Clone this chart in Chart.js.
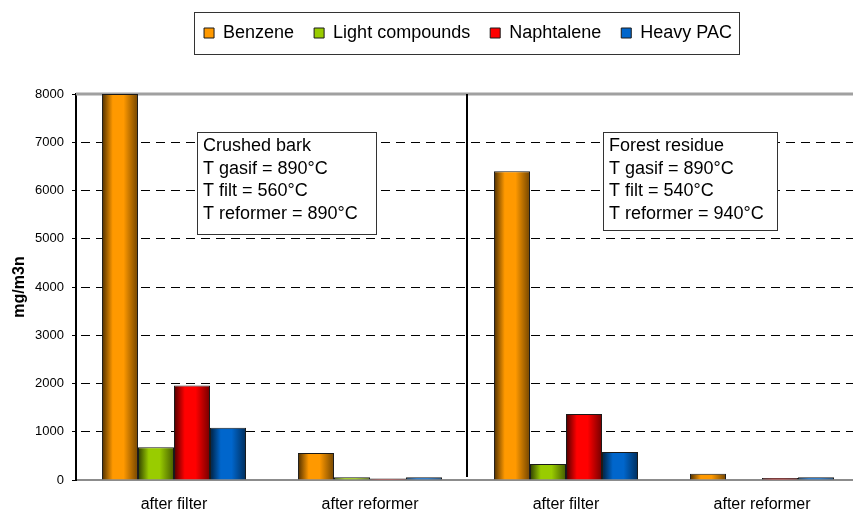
<!DOCTYPE html>
<html>
<head>
<meta charset="utf-8">
<script src="https://cdn.jsdelivr.net/npm/chart.js@4.4.1/dist/chart.umd.min.js"></script>
<style>
  html, body { margin: 0; padding: 0; background: #fff; overflow: hidden; }
  #wrap { width: 853px; height: 511px; overflow: hidden; }
</style>
</head>
<body>
<div id="wrap"><canvas id="bar-chart" width="860" height="511"></canvas></div>
<script>
var categories = ["after filter", "after reformer", "after filter", "after reformer"];
var benzene = [8000, 560, 6400, 130];
var lightCompounds = [680, 55, 330, 0];
var naphtalene = [1960, 30, 1370, 40];
var heavyPac = [1085, 55, 580, 55];
var yTicks = [0, 1000, 2000, 3000, 4000, 5000, 6000, 7000, 8000];

var seriesNames = ["Benzene", "Light compounds", "Naphtalene", "Heavy PAC"];
var seriesColors = ["#ff9900", "#99cc00", "#ff0000", "#0066cc"];

var boxNotes = [
  { x: 197, y: 132, w: 179, h: 102, lines: ["Crushed bark", "T gasif = 890°C", "T filt = 560°C", "T reformer = 890°C"] },
  { x: 603, y: 132, w: 174, h: 98, lines: ["Forest residue", "T gasif = 890°C", "T filt = 540°C", "T reformer = 940°C"] }
];

var FONT = "'Liberation Sans', Arial, sans-serif";

function shade(hex, f) {
  var r = parseInt(hex.substr(1, 2), 16), g = parseInt(hex.substr(3, 2), 16), b = parseInt(hex.substr(5, 2), 16);
  return "rgb(" + Math.round(r * f) + "," + Math.round(g * f) + "," + Math.round(b * f) + ")";
}

// extra room under the legend, like the original sheet
var legendGap = {
  id: "legendGap",
  beforeLayout: function(chart) {
    var lg = chart.legend;
    if (lg && !lg._gapPatched) {
      var origFit = lg.fit;
      lg.fit = function() {
        origFit.call(this);
        this.height += 42;
      };
      lg._gapPatched = true;
    }
  }
};

// cylinder-like shading on each bar
var barShading = {
  id: "barShading",
  beforeDatasetsDraw: function(chart) {
    var ctx = chart.ctx;
    chart.data.datasets.forEach(function(ds, i) {
      var col = seriesColors[i];
      chart.getDatasetMeta(i).data.forEach(function(bar) {
        var l = bar.x - bar.width / 2, r = bar.x + bar.width / 2;
        var g = ctx.createLinearGradient(l, 0, r, 0);
        g.addColorStop(0, shade(col, 0.3));
        g.addColorStop(0.3, col);
        g.addColorStop(0.6, col);
        g.addColorStop(1, shade(col, 0.45));
        bar.options = Object.assign({}, bar.options, { backgroundColor: g });
      });
    });
  }
};

var chartDecor = {
  id: "chartDecor",
  beforeDatasetsDraw: function(chart) {
    var ctx = chart.ctx, a = chart.chartArea, x = chart.scales.x, y = chart.scales.y;
    ctx.save();
    // grey top line
    ctx.strokeStyle = "#a0a0a0";
    ctx.lineWidth = 3;
    ctx.beginPath();
    ctx.moveTo(a.left, y.getPixelForValue(8000));
    ctx.lineTo(a.right, y.getPixelForValue(8000));
    ctx.stroke();
    // separator between the two feedstocks
    var sx = Math.round((x.getPixelForValue(1) + x.getPixelForValue(2)) / 2) - 1;
    ctx.strokeStyle = "#000";
    ctx.lineWidth = 2;
    ctx.beginPath();
    ctx.moveTo(sx, y.getPixelForValue(8000));
    ctx.lineTo(sx, y.getPixelForValue(0) - 3);
    ctx.stroke();
    ctx.restore();
  },
  afterDraw: function(chart) {
    var ctx = chart.ctx;
    ctx.save();
    // text boxes
    boxNotes.forEach(function(b) {
      ctx.fillStyle = "#fff";
      ctx.fillRect(b.x, b.y, b.w, b.h);
      ctx.strokeStyle = "#333";
      ctx.lineWidth = 1;
      ctx.strokeRect(b.x + 0.5, b.y + 0.5, b.w, b.h);
      ctx.fillStyle = "#000";
      ctx.font = "18px " + FONT;
      ctx.textBaseline = "alphabetic";
      ctx.textAlign = "left";
      b.lines.forEach(function(t, k) {
        ctx.fillText(t, b.x + 6, b.y + 19 + k * 22.5);
      });
    });
    // frame around the legend
    var hb = chart.legend.legendHitBoxes;
    if (hb && hb.length) {
      var first = hb[0], last = hb[hb.length - 1];
      ctx.strokeStyle = "#333";
      ctx.lineWidth = 1;
      ctx.strokeRect(Math.round(first.left - 10) + 0.5, Math.round(first.top - 12) + 0.5,
        Math.round(last.left + last.width - first.left + 17), Math.round(first.height + 24));
    }
    ctx.restore();
  }
};

function makeDataset(k, values) {
  return {
    label: seriesNames[k],
    data: values,
    backgroundColor: seriesColors[k],
    borderColor: "#1a1a1a",
    borderWidth: 1,
    categoryPercentage: 0.735,
    barPercentage: 1
  };
}

var barChart = new Chart(document.getElementById("bar-chart"), {
  type: "bar",
  data: {
    labels: categories,
    datasets: [
      makeDataset(0, benzene),
      makeDataset(1, lightCompounds),
      makeDataset(2, naphtalene),
      makeDataset(3, heavyPac)
    ]
  },
  options: {
    responsive: false,
    animation: false,
    layout: { padding: { top: 4, left: 0, right: 0, bottom: 0 } },
    plugins: {
      legend: {
        position: "top",
        fullSize: false,
        labels: {
          boxWidth: 10,
          boxHeight: 10,
          padding: 20,
          color: "#000",
          font: { family: FONT, size: 18 }
        }
      },
      tooltip: { enabled: false }
    },
    scales: {
      x: {
        grid: { display: false, drawTicks: false },
        border: { display: true, color: "#8c8c8c", width: 2 },
        ticks: { color: "#000", padding: 15, font: { family: FONT, size: 16 } },
        afterFit: function(scale) { scale.height = 31; }
      },
      y: {
        min: 0,
        max: 8000,
        afterBuildTicks: function(scale) {
          scale.ticks = yTicks.map(function(v) { return { value: v }; });
        },
        grid: {
          color: function(c) {
            return (c.tick && (c.tick.value === 0 || c.tick.value === 8000)) ? "rgba(0,0,0,0)" : "#000";
          },
          tickColor: "#000",
          tickLength: 4,
          lineWidth: 1
        },
        border: { display: true, color: "#000", width: 2, dash: [9, 6], dashOffset: -4 },
        ticks: {
          color: "#000",
          padding: 8,
          font: { family: FONT, size: 13 },
          callback: function(v) { return String(v); }
        },
        title: {
          display: true,
          text: "mg/m3n",
          color: "#000",
          padding: { top: 10, bottom: 0 },
          font: { family: FONT, size: 16, weight: "bold" }
        },
        afterFit: function(scale) { scale.width = 76; }
      }
    }
  },
  plugins: [legendGap, barShading, chartDecor]
});
</script>
</body>
</html>
